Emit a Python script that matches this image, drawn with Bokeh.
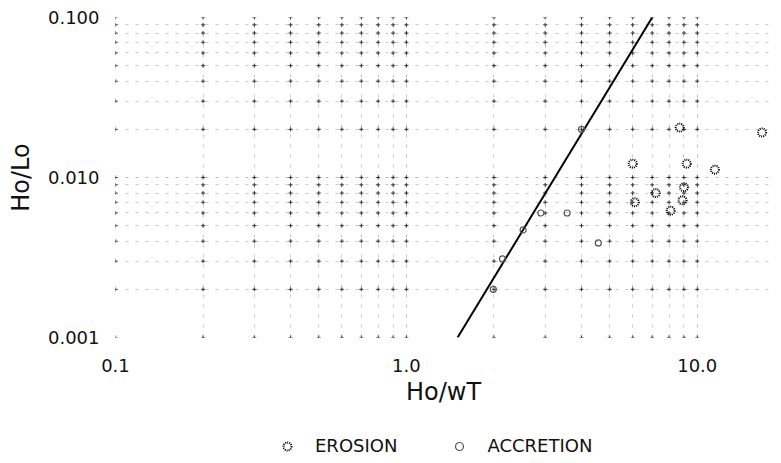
from bokeh.plotting import figure
from bokeh.layouts import column
from bokeh.models import FixedTicker, Legend, LegendItem, Range1d
from bokeh.embed import file_html
from bokeh.resources import INLINE

# ---- data ----
erosion_x = [8.7, 16.7, 9.2, 11.5, 9.0, 8.9, 6.1, 8.1, 6.0, 7.2]
erosion_y = [0.0205, 0.0191, 0.0122, 0.0112, 0.0087, 0.0072, 0.0070, 0.0062, 0.0122, 0.0080]

accretion_x = [2.52, 2.14, 1.99, 4.57, 3.57, 4.0, 2.9]
accretion_y = [0.0047, 0.0031, 0.0020, 0.0039, 0.0060, 0.0200, 0.0060]

fit_x = [1.5, 7.0]
fit_y = [0.001, 0.1]

x_tick_values = [0.1, 1.0, 10.0]
x_tick_labels = ["0.1", "1.0", "10.0"]
y_tick_values = [0.001, 0.01, 0.1]
y_tick_labels = ["0.001", "0.010", "0.100"]

x_minor = [m * d for d in [0.1, 1.0] for m in range(2, 10)]
y_minor = [m * d for d in [0.001, 0.01] for m in range(2, 10)]

FONT = "DejaVu Sans"

p = figure(width=773, height=410, x_axis_type="log", y_axis_type="log",
           x_range=Range1d(0.1, 18), y_range=Range1d(0.001, 0.1),
           output_backend="svg", toolbar_location=None,
           min_border_left=115, min_border_right=2, min_border_top=17,
           min_border_bottom=73)
p.outline_line_color = None
p.background_fill_color = "white"

p.xaxis.ticker = FixedTicker(ticks=x_tick_values, minor_ticks=x_minor)
p.yaxis.ticker = FixedTicker(ticks=y_tick_values, minor_ticks=y_minor)
p.xaxis.major_label_overrides = dict(zip(x_tick_values, x_tick_labels))
p.yaxis.major_label_overrides = dict(zip(y_tick_values, y_tick_labels))

for ax in (p.xaxis, p.yaxis):
    ax.axis_line_color = None
    ax.major_tick_line_color = None
    ax.minor_tick_line_color = None
    ax.major_tick_out = 0
    ax.minor_tick_out = 0
    ax.major_label_text_font = FONT
    ax.major_label_text_font_size = "18px"
    ax.major_label_text_color = "#111111"
    ax.axis_label_text_font = FONT
    ax.axis_label_text_font_size = "24px"
    ax.axis_label_text_font_style = "normal"
    ax.axis_label_text_color = "#111111"

p.xaxis.axis_label = "Ho/wT"
p.yaxis.axis_label = "Ho/Lo"
p.xaxis.major_label_standoff = 21
p.xaxis.axis_label_standoff = 3
p.yaxis.major_label_standoff = 16
p.yaxis.axis_label_standoff = 10

for g in (p.xgrid, p.ygrid):
    g.grid_line_color = "#777777"
    g.grid_line_dash = "3 7"
    g.grid_line_alpha = 0.5
    g.minor_grid_line_color = "#777777"
    g.minor_grid_line_dash = "3 7"
    g.minor_grid_line_alpha = 0.4

# grid intersection crosses
gx = x_tick_values + x_minor
gy = y_tick_values + y_minor
cx = [a for a in gx for b in gy]
cy = [b for a in gx for b in gy]
p.scatter(cx, cy, marker="cross", size=4, line_color="#333333", line_width=1)

# fitted line
p.line(fit_x, fit_y, line_color="black", line_width=2)

ER_STYLE = dict(marker="circle", size=8, fill_color=None, line_color="black",
                line_width=2, line_dash="1 1")
AC_STYLE = dict(marker="circle", size=6, fill_color=None, line_color="#555555",
                line_width=1.2)

p.scatter(erosion_x, erosion_y, **ER_STYLE)
p.scatter(accretion_x, accretion_y, **AC_STYLE)

# ---- legend strip below the chart (keys are hidden outside its range) ----
q = figure(width=773, height=50, x_range=Range1d(0, 1), y_range=Range1d(0, 1),
           output_backend="svg", toolbar_location=None,
           min_border_left=0, min_border_right=0, min_border_top=0,
           min_border_bottom=0)
q.axis.visible = False
q.grid.visible = False
q.outline_line_color = None

er_key = q.scatter([-5], [-5], **ER_STYLE)
ac_key = q.scatter([-5], [-5], **AC_STYLE)

legend = Legend(items=[LegendItem(label="EROSION", renderers=[er_key]),
                       LegendItem(label="ACCRETION", renderers=[ac_key])],
                orientation="horizontal", location=(162, 4),
                padding=0, margin=0, spacing=52, label_standoff=18,
                glyph_width=20, glyph_height=20,
                border_line_color=None, background_fill_alpha=0,
                label_text_font=FONT, label_text_font_size="18px",
                label_text_color="#111111")
q.add_layout(legend, "center")

layout = column(p, q, spacing=0)
open("out.html", "w").write(file_html(layout, INLINE))
